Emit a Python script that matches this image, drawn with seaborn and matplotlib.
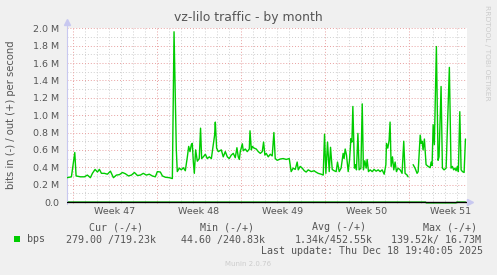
import numpy as np
import pandas as pd
import matplotlib
matplotlib.use("Agg")
import matplotlib.pyplot as plt
import seaborn as sns

# ---------------- data (days since Mon 17 Nov 2025 00:00, bits/s) ----------------
out_days = [-0.47, -0.11, 0.17, 0.28, 0.64, 0.97, 1.22, 1.47, 1.64, 1.86, 2.06, 2.22, 2.39,
            2.64, 2.89, 3.14, 3.39, 3.64, 3.89, 4.14, 4.39, 4.64, 4.89, 5.14, 5.39, 5.64,
            5.88, 6.13, 6.38, 6.63, 6.88, 7.05, 7.30, 7.47, 7.72, 8.05, 8.30, 8.44, 8.63,
            8.71, 8.88, 9.05, 9.21, 9.38, 9.55, 9.66, 9.77, 9.88, 9.96, 10.05, 10.13, 10.24,
            10.38, 10.54, 10.65, 10.74, 10.88, 11.05, 11.21, 11.38, 11.55, 11.71, 11.82,
            11.88, 11.99, 12.13, 12.38, 12.54, 12.71, 12.88, 13.04, 13.21, 13.38, 13.54,
            13.68, 13.79, 13.88, 13.96, 14.13, 14.21, 14.38, 14.54, 14.71, 14.77, 14.88,
            14.96, 15.12, 15.29, 15.46, 15.63, 15.79, 15.90, 16.01, 16.12, 16.29, 16.46,
            16.62, 16.76, 16.87, 17.04, 17.29, 17.54, 17.79, 18.04, 18.20, 18.37, 18.54,
            18.70, 18.79, 18.95, 19.12, 19.29, 19.45, 19.62, 19.87, 20.12, 20.20, 20.45,
            20.70, 20.87, 20.98, 21.09, 21.23, 21.37, 21.48, 21.62, 21.78, 21.95, 22.06,
            22.20, 22.36, 22.53, 22.61, 22.70, 22.81, 22.95, 23.06, 23.18, 23.26, 23.34,
            23.47, 23.56, 23.64, 23.76, 23.86, 24.01, 24.12, 24.22, 24.34, 24.45, 24.53,
            24.64, 24.78, 24.95, 25.11, 25.28, 25.45, 25.61, 25.78, 25.95, 26.09, 26.14,
            26.25, 26.36, 26.44, 26.53, 26.64, 26.75, 26.86, 26.97, 27.11, 27.28, 27.44,
            27.58, 27.69, 27.86, 27.94,
            28.36, 28.52, 28.69, 28.78, 28.95, 29.03, 29.11, 29.19, 29.30, 29.44, 29.61,
            29.78, 29.86, 29.94, 30.03, 30.13, 30.30, 30.44, 30.52, 30.69, 30.80, 30.94,
            31.11, 31.38, 31.52, 31.63, 31.74, 31.85, 31.94, 32.05, 32.13, 32.25, 32.36,
            32.47, 32.61, 32.72]
out_mbps = [0.28, 0.29, 0.57, 0.30, 0.29, 0.29, 0.31, 0.28, 0.33, 0.375, 0.345, 0.376, 0.33,
            0.33, 0.32, 0.355, 0.28, 0.31, 0.315, 0.34, 0.325, 0.30, 0.31, 0.34, 0.305, 0.31,
            0.33, 0.31, 0.32, 0.30, 0.29, 0.35, 0.345, 0.30, 0.285, 0.28, 0.27, 1.96, 0.60,
            0.35, 0.39, 0.37, 0.395, 0.36, 0.52, 0.64, 0.58, 0.66, 0.675, 0.46, 0.33, 0.60,
            0.47, 0.50, 0.85, 0.50, 0.52, 0.55, 0.50, 0.52, 0.50, 0.66, 0.77,
            0.92, 0.62, 0.58, 0.60, 0.52, 0.58, 0.52, 0.50, 0.54, 0.56, 0.51,
            0.625, 0.52, 0.49, 0.58, 0.67, 0.59, 0.61, 0.58, 0.61, 0.82, 0.60,
            0.64, 0.62, 0.61, 0.58, 0.56, 0.58, 0.69, 0.54, 0.56, 0.52, 0.55,
            0.53, 0.80, 0.50, 0.48, 0.495, 0.50, 0.49, 0.50, 0.35, 0.39, 0.375,
            0.46, 0.37, 0.41, 0.39, 0.36, 0.345, 0.37, 0.35, 0.36, 0.35, 0.33,
            0.32, 0.31, 0.78, 0.33, 0.69, 0.35, 0.63, 0.375, 0.36, 0.35, 0.46,
            0.35, 0.39, 0.56, 0.50, 0.61, 0.54, 0.35, 0.48, 0.73, 0.69, 1.10,
            0.39, 0.43, 0.37, 0.79, 0.37, 0.39, 1.13, 0.37, 0.475, 0.39, 0.49,
            0.35, 0.37, 0.35, 0.375, 0.355, 0.37, 0.35, 0.37, 0.32, 0.43, 0.675,
            0.62, 0.71, 0.92, 0.41, 0.52, 0.37, 0.46, 0.35, 0.39, 0.37, 0.33,
            0.70, 0.33, 0.31, 0.29,
            0.43, 0.39, 0.33, 0.35, 0.77, 0.675, 0.70, 0.60, 0.725, 0.43, 0.41,
            0.395, 0.46, 0.42, 0.89, 0.66, 1.79, 0.48, 0.52, 1.33, 0.39, 0.37,
            0.39, 1.55, 0.39, 0.41, 0.37, 0.39, 0.36, 0.41, 0.35, 1.04, 0.37,
            0.35, 0.34, 0.725]
gap_after_day = 28.0  # no data between the two segments

in_days = [-0.47, 29.40, 29.45, 31.95, 32.00, 32.72]
in_kbps = [-1.0, -1.0, -10.0, -10.0, -1.0, -1.0]

week_starts = [0, 7, 14, 21, 28]
week_labels = ["Week 47", "Week 48", "Week 49", "Week 50", "Week 51"]
y_ticks_m = [0.0, 0.2, 0.4, 0.6, 0.8, 1.0, 1.2, 1.4, 1.6, 1.8, 2.0]
y_tick_labels = ["0.0", "0.2 M", "0.4 M", "0.6 M", "0.8 M", "1.0 M", "1.2 M",
                 "1.4 M", "1.6 M", "1.8 M", "2.0 M"]

title = "vz-lilo traffic - by month"
ylabel = "bits in (-) / out (+) per second"
legend_headers = ["Cur (-/+)", "Min (-/+)", "Avg (-/+)", "Max (-/+)"]
legend_values = ["279.00 /719.23k", "44.60 /240.83k", "1.34k/452.55k", "139.52k/ 16.73M"]
series_name = "bps"
last_update = "Last update: Thu Dec 18 19:40:05 2025"
footer = "Munin 2.0.76"
side_note = "RRDTOOL / TOBI OETIKER"

# ---------------- build frames ----------------
out_df = pd.DataFrame({"day": out_days, "bps": np.array(out_mbps) * 1e6})
out_df["segment"] = (out_df["day"] > gap_after_day).astype(int)
in_df = pd.DataFrame({"day": in_days, "bps": np.array(in_kbps) * 1e3, "segment": 0})

# ---------------- figure ----------------
W, H = 497, 275
BG = "#F0F0F0"
TXT = "#555555"
GREEN = "#00CC00"
sns.set_style("white")
plt.rcParams["font.family"] = ["DejaVu Sans"]

fig = plt.figure(figsize=(W / 100, H / 100), dpi=100, facecolor=BG)

def fx(x):
    return x / W

def fy(y):
    return 1 - y / H

top_px, bot_px, left_px, right_px = 28.3, 203.5, 66.5, 467
ax = fig.add_axes([fx(left_px), fy(bot_px), fx(right_px) - fx(left_px), fy(top_px) - fy(bot_px)])
ax.set_facecolor("white")

px_per_m = (202 - 28.3) / 2.0
ylo = -(bot_px - 202) / px_per_m * 1e6
ax.set_ylim(ylo, 2.0e6)
ax.set_xlim(-0.52, 32.85)

# grid
for d in range(0, 33):
    if d in week_starts:
        continue
    ax.axvline(d, color="#cfcfcf", lw=0.7, ls=(0, (1, 2)), zorder=0)
for m in np.arange(0.1, 2.0, 0.2):
    ax.axhline(m * 1e6, color="#cfcfcf", lw=0.7, ls=(0, (1, 2)), zorder=0)
for m in y_ticks_m[1:]:
    ax.axhline(m * 1e6, color="#e8a0a0", lw=0.7, ls=(0, (1, 2)), zorder=0)
for d in week_starts:
    ax.axvline(d, color="#e8a0a0", lw=0.7, ls=(0, (1, 2)), zorder=0)

sns.lineplot(data=out_df, x="day", y="bps", units="segment", estimator=None,
             color=GREEN, lw=1.0, ax=ax, zorder=3)
sns.lineplot(data=in_df, x="day", y="bps", units="segment", estimator=None,
             color=GREEN, lw=1.0, ax=ax, zorder=2)

ax.axhline(0, color="black", lw=1.0, zorder=4)

for s in ax.spines.values():
    s.set_visible(False)
ax.set_xlabel("")
ax.set_ylabel("")

ax.set_yticks([m * 1e6 for m in y_ticks_m])
ax.set_yticklabels(y_tick_labels)
ax.tick_params(axis="y", length=2, width=0.6, color="#bbbbbb", labelsize=6.8,
               labelcolor=TXT, pad=3)
ax.set_xticks(week_starts)
ax.set_xticklabels([])
ax.tick_params(axis="x", length=2.5, width=0.7, color="#e08080", pad=1)
for d, lab in zip(week_starts, week_labels):
    ax.text(d + 3.5, -0.047, lab, transform=ax.get_xaxis_transform(),
            ha="center", va="center", fontsize=6.8, color=TXT)

# axes lines and arrows (light blue)
AXC = "#c8c8f0"
ax.plot([0, 0], [0, 1.03], transform=ax.transAxes, color=AXC, lw=0.8, clip_on=False)
ax.plot([0], [1.035], marker="^", ms=4, color=AXC, transform=ax.transAxes, clip_on=False)
ax.plot([1.008], [(0 - ylo) / (2e6 - ylo)], marker=">", ms=4, color=AXC,
        transform=ax.transAxes, clip_on=False)

# texts
fig.text(fx(248), fy(18), title, ha="center", va="center", fontsize=8.9, color=TXT)
fig.text(fx(11), fy(115), ylabel, rotation=90, ha="center", va="center",
         fontsize=7.2, color=TXT)
fig.text(fx(487), fy(53), side_note, rotation=270, ha="center", va="center",
         fontsize=5.4, color="#cccccc")

MONO = "DejaVu Sans Mono"
hx = [89, 200, 312, 423]
for x, t in zip(hx, legend_headers):
    fig.text(fx(x), fy(227.5), t, ha="left", va="center", fontsize=7.2, color=TXT, family=MONO)
vx = [66, 181, 295, 391]
for x, t in zip(vx, legend_values):
    fig.text(fx(x), fy(239.5), t, ha="left", va="center", fontsize=7.2, color=TXT, family=MONO)
fig.text(fx(27), fy(239.5), series_name, ha="left", va="center", fontsize=7.2, color=TXT, family=MONO)
fig.patches.append(plt.Rectangle((fx(14), fy(242)), fx(6), 6 / H, transform=fig.transFigure,
                                 facecolor=GREEN, edgecolor="none"))
fig.text(fx(483), fy(251), last_update, ha="right", va="center", fontsize=7.2, color=TXT, family=MONO)
fig.text(fx(248), fy(264.5), footer, ha="center", va="center", fontsize=5.0, color="#cccccc")

fig.savefig("out.png", dpi=100, facecolor=BG)
